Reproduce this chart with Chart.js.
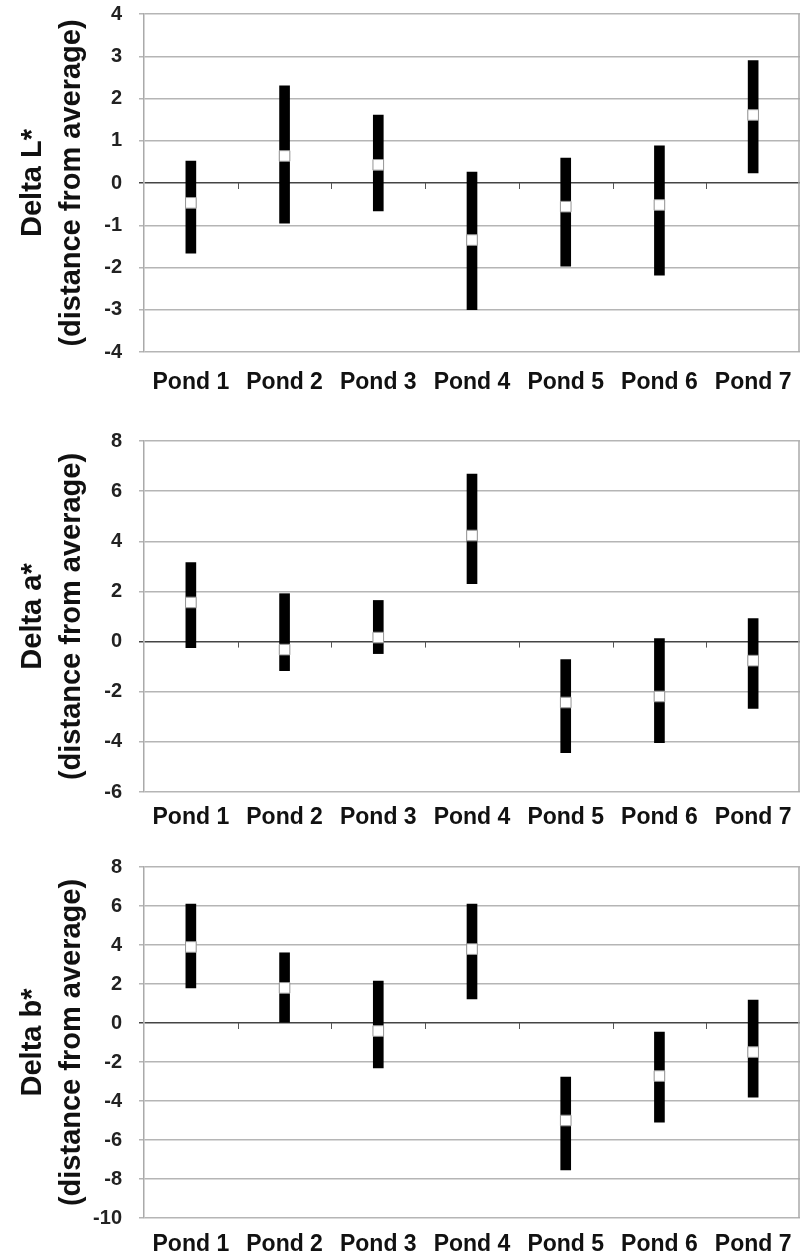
<!DOCTYPE html>
<html>
<head>
<meta charset="utf-8">
<script src="https://cdn.jsdelivr.net/npm/chart.js@4.4.1/dist/chart.umd.min.js"></script>
<style>
  html, body { margin: 0; padding: 0; background: #fff; }
  .panel { position: absolute; left: 0; width: 801px; }
  canvas { display: block; }
</style>
</head>
<body>
<div class="panel" id="p1" style="top:0;height:400px"><canvas id="cL"></canvas></div>
<div class="panel" id="p2" style="top:400px;height:430px"><canvas id="cA"></canvas></div>
<div class="panel" id="p3" style="top:830px;height:429px"><canvas id="cB"></canvas></div>
<script>
const ponds = ['Pond 1', 'Pond 2', 'Pond 3', 'Pond 4', 'Pond 5', 'Pond 6', 'Pond 7'];

// Delta L*
const lMean = [-0.47, 0.64, 0.43, -1.35, -0.56, -0.52, 1.61];
const lLow  = [-1.66, -0.95, -0.66, -3.0, -1.97, -2.18, 0.24];
const lHigh = [0.52, 2.3, 1.61, 0.26, 0.59, 0.88, 2.9];

// Delta a*
const aMean = [1.56, -0.32, 0.16, 4.23, -2.43, -2.19, -0.76];
const aLow  = [-0.24, -1.16, -0.48, 2.31, -4.43, -4.03, -2.67];
const aHigh = [3.15, 1.91, 1.64, 6.68, -0.72, 0.12, 0.92];

// Delta b*
const bMean = [3.9, 1.8, -0.41, 3.79, -5.0, -2.72, -1.49];
const bLow  = [1.8, 0.0, -2.3, 1.23, -7.54, -5.08, -3.8];
const bHigh = [6.1, 3.6, 2.15, 6.1, -2.77, -0.46, 1.18];

const framePlugin = {
  id: 'frame',
  afterDatasetsDraw(chart) {
    // small ticks on the zero line between ponds, plus the right edge of the plot
    const ctx = chart.ctx, ys = chart.scales.y, a = chart.chartArea;
    const y0 = ys.getPixelForValue(0);
    const step = (a.right - a.left) / ponds.length;
    ctx.save();
    ctx.strokeStyle = '#555';
    ctx.lineWidth = 1;
    ctx.beginPath();
    for (let i = 1; i < ponds.length; i++) {
      const x = Math.round(a.left + i * step) + 0.5;
      ctx.moveTo(x, y0); ctx.lineTo(x, y0 + 6);
    }
    ctx.stroke();
    ctx.strokeStyle = '#aaa';
    ctx.lineWidth = 1.5;
    ctx.beginPath();
    ctx.moveTo(a.right - 1, a.top); ctx.lineTo(a.right - 1, a.bottom);
    ctx.stroke();
    ctx.restore();
  }
};

function makeChart(id, title, mean, low, high, min, max, step, top, bottom, labelPad) {
  const ranges = low.map((v, i) => [v, high[i]]);
  return new Chart(document.getElementById(id), {
    type: 'bar',
    data: {
      labels: ponds,
      datasets: [{
        type: 'line',
        data: mean,
        showLine: false,
        pointStyle: 'rect',
        pointRadius: 7.5,
        pointBackgroundColor: '#fff',
        pointBorderColor: '#999',
        pointBorderWidth: 1,
        order: 0
      }, {
        data: ranges,
        backgroundColor: '#000',
        borderSkipped: false,
        barThickness: 10,
        order: 1
      }]
    },
    options: {
      responsive: true,
      maintainAspectRatio: false,
      animation: false,
      layout: { autoPadding: false, padding: { top: top, right: 1, left: 0 } },
      plugins: { legend: { display: false }, tooltip: { enabled: false } },
      scales: {
        x: {
          grid: { display: false },
          border: { display: false },
          ticks: { color: '#111', font: { family: 'Liberation Sans', size: 23, weight: 'bold' }, padding: labelPad, maxRotation: 0, autoSkip: false },
          afterFit(s) {
            s.height = bottom;
            s.paddingLeft = 0;
            s.paddingRight = 0;
          }
        },
        y: {
          min: min, max: max,
          ticks: { stepSize: step, color: '#222', padding: 17, font: { family: 'Liberation Sans', size: 20, weight: 'bold' } },
          grid: {
            color: c => c.tick && c.tick.value === 0 ? '#444' : '#b5b5b5',
            lineWidth: 1.5,
            tickLength: 5
          },
          border: { color: '#aaa', width: 1.5 },
          title: {
            display: true,
            text: [title, '(distance from average)'],
            color: '#111',
            font: { family: 'Liberation Sans', size: 29, weight: 'bold', lineHeight: 1.345 },
            padding: { top: 13.5, bottom: 0 }
          },
          afterFit(s) {
            s.width = 144;
            s.paddingTop = 0;
            s.paddingBottom = 0;
          }
        }
      }
    },
    plugins: [framePlugin]
  });
}

makeChart('cL', 'Delta L*', lMean, lLow, lHigh, -4, 4, 1, 14, 48, 9);
makeChart('cA', 'Delta a*', aMean, aLow, aHigh, -6, 8, 2, 41, 38, 4);
makeChart('cB', 'Delta b*', bMean, bLow, bHigh, -10, 8, 2, 37, 41, 5);
</script>
</body>
</html>
